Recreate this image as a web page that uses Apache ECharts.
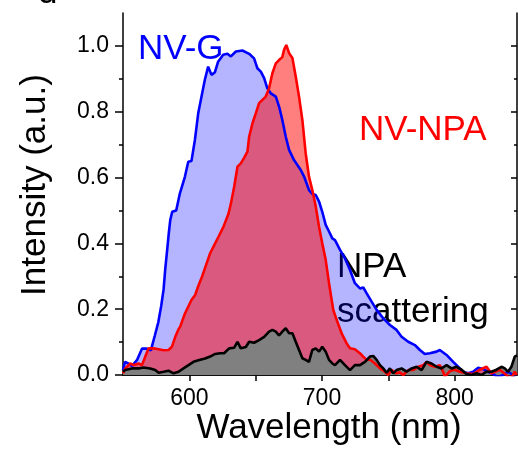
<!DOCTYPE html>
<html>
<head>
<meta charset="utf-8">
<script src="https://cdn.jsdelivr.net/npm/echarts@6/dist/echarts.min.js"></script>
<style>
  html, body { margin: 0; padding: 0; background: #fff; }
  #chart { width: 518px; height: 450px; }
</style>
</head>
<body>
<div id="chart"></div>
<script>
// NV-G spectrum (blue)
const ngWl = [550, 551.5, 554, 556.8, 560.5, 564.3, 568, 571, 574, 576.6, 578.8, 580.6, 581.8, 583.3, 584.5, 585.6, 587.1, 590.1, 592.9, 596.7,
  599.2, 601.6, 604.2, 606.7, 609.2, 611.7, 614.2, 616.7, 619.3, 621.7, 625.5, 628.7, 631.3, 635.1, 640, 645.1, 648.8, 651.3, 653.9, 656.4,
  658.8, 661.4, 665.2, 667.7, 670.1, 672.7, 675.2, 678.9, 684, 686.5, 690.2, 692.7, 695.3, 697.8, 700.2, 702.8, 705.3, 707.8, 709.8, 713.6,
  717.3, 721.1, 724.8, 728.6, 731.1, 733.7, 737.4, 741.2, 746.2, 751.2, 756.2, 760, 765, 770, 773.8, 777.5, 781.3, 786.4, 788.8, 793.9,
  798.9, 802.6, 806.4, 810.1, 813.9, 817.7, 821.4, 825.2, 829, 832.7, 836.5, 840.3, 844, 846.6];
const ngVal = [0.015, 0.04, 0.035, 0.028, 0.045, 0.08, 0.08, 0.075, 0.12, 0.16, 0.21, 0.26, 0.32, 0.38, 0.43, 0.47, 0.496, 0.5, 0.552, 0.603,
  0.648, 0.65, 0.714, 0.795, 0.846, 0.897, 0.937, 0.912, 0.92, 0.952, 0.973, 0.976, 0.968, 0.983, 0.986, 0.976, 0.962, 0.932, 0.922, 0.902,
  0.871, 0.856, 0.846, 0.815, 0.775, 0.724, 0.684, 0.653, 0.623, 0.603, 0.562, 0.55, 0.547, 0.527, 0.496, 0.456, 0.436, 0.415, 0.41, 0.38,
  0.355, 0.319, 0.279, 0.263, 0.266, 0.248, 0.223, 0.198, 0.172, 0.152, 0.137, 0.116, 0.101, 0.091, 0.076, 0.064, 0.066, 0.071, 0.076, 0.061,
  0.04, 0.025, 0.01, 0.005, 0.01, 0.022, 0.018, 0.01, 0.003, -0.007, 0.0, 0.01, 0.0, -0.02];

// NV-NPA spectrum (red)
const npaWl = [550, 551.7, 555.5, 558, 561.7, 564.3, 566.8, 569.3, 573, 576.8, 580.6, 584.3, 586.9, 589.4, 591.6, 593.1, 596.7, 601.6, 604.4, 606.7,
  609.7, 613.1, 615.7, 618.2, 622, 625.7, 629.5, 631.3, 633.8, 636.3, 638.8, 641.3, 643.8, 645.1, 647.6, 650.1, 652.6, 655.1, 657.6, 660.1,
  662.6, 665.2, 667.6, 670.1, 671.4, 673.1, 675.2, 677.7, 680.2, 682.7, 685.2, 687.7, 690.2, 692.7, 695.3, 697.8, 700.2, 702.8, 705.3, 707.3,
  708.5, 711.1, 714.8, 718.6, 721.1, 724.8, 728.6, 731.1, 733.7, 736.1, 739.9, 743.7, 747.4, 749.9, 752.5, 756.2, 758.7, 761.2, 765, 768.7,
  772.5, 776.3, 778.8, 781.3, 785.1, 788.8, 791.3, 792.6, 796.4, 800.1, 803.9, 808.9, 813.9, 818.9, 824, 827.7, 834, 839, 841.5, 845.3, 846.8];
const npaVal = [0.005, 0.02, 0.035, 0.03, 0.035, 0.03, 0.056, 0.081, 0.081, 0.078, 0.075, 0.076, 0.086, 0.116, 0.137, 0.147, 0.187, 0.228, 0.243, 0.27,
  0.3, 0.34, 0.37, 0.39, 0.42, 0.45, 0.49, 0.52, 0.572, 0.633, 0.643, 0.66, 0.679, 0.724, 0.765, 0.795, 0.826, 0.836, 0.846, 0.871,
  0.917, 0.947, 0.957, 0.966, 0.988, 1.003, 0.978, 0.963, 0.907, 0.846, 0.775, 0.674, 0.603, 0.562, 0.512, 0.45, 0.4, 0.35, 0.279, 0.228,
  0.198, 0.167, 0.127, 0.096, 0.081, 0.078, 0.066, 0.056, 0.046, 0.047, 0.035, 0.02, 0.01, 0.0, 0.015, 0.005, 0.008, 0.0, 0.015, 0.015,
  0.025, 0.03, 0.04, 0.03, 0.025, 0.03, 0.01, -0.005, 0.012, 0.016, 0.01, 0.005, 0.003, 0.016, 0.025, 0.005, 0.016, 0.0, -0.02, 0.01, 0.0];

// NPA scattering (black)
const scWl = [550, 551.7, 556.8, 561.7, 565.5, 570.5, 574.3, 576.8, 580.6, 584.3, 588.1, 591.9, 595.6, 599.4, 603.1, 608.2, 611.9, 615.7, 619.5, 623.2,
  626.2, 630, 633.8, 636.3, 638.8, 642.6, 645.1, 648.8, 652.6, 656.4, 660.1, 662.6, 665.2, 667.6, 670.1, 672.7, 675.2, 677.7, 680.2, 682.7,
  685.2, 687.7, 690.2, 692.7, 695.3, 697.8, 700.2, 702.8, 705.3, 707.8, 709.8, 713.6, 717.3, 721.1, 724.8, 728.6, 732.4, 736.1, 738.6, 741.2,
  743.7, 746.2, 748.7, 751.2, 753.7, 756.2, 760, 763.8, 767.5, 771.3, 775.1, 778.8, 782.6, 786.4, 790.1, 793.9, 797.6, 801.4, 805.2, 808.9,
  812.7, 816.5, 820.2, 824, 827.7, 831.5, 835.3, 837.8, 840.2, 842.8, 845.3, 847];
const scVal = [0.01, 0.015, 0.02, 0.02, 0.023, 0.02, 0.015, 0.007, 0.01, 0.013, 0.005, 0.01, 0.02, 0.03, 0.04, 0.046, 0.05, 0.056, 0.064, 0.066,
  0.066, 0.081, 0.083, 0.101, 0.081, 0.085, 0.101, 0.098, 0.106, 0.116, 0.132, 0.137, 0.132, 0.12, 0.132, 0.142, 0.127, 0.127, 0.101, 0.076,
  0.051, 0.046, 0.04, 0.076, 0.081, 0.071, 0.086, 0.071, 0.046, 0.035, 0.03, 0.046, 0.03, 0.015, 0.03, 0.03, 0.04, 0.056, 0.058, 0.046,
  0.03, 0.02, 0.007, 0.02, 0.005, 0.015, 0.02, 0.01, 0.02, 0.025, 0.015, 0.04, 0.035, 0.025, 0.02, 0.03, 0.02, 0.025, 0.016, 0.003,
  0.0, 0.005, 0.0, 0.01, 0.01, 0.016, 0.025, 0.02, 0.01, 0.025, 0.056, 0.06];

const xMajor = [600, 700, 800];
const xMinor = [650, 750];
const xTop = [600, 650, 700, 750, 800];
const yMajor = [0, 0.2, 0.4, 0.6, 0.8, 1.0];
const yMinor = [0.1, 0.3, 0.5, 0.7, 0.9];

const FONT = '"Liberation Sans", Arial, sans-serif';
const BIG = "35px " + FONT;
const zip = (a, b) => a.map((x, i) => [x, b[i]]);

const chart = echarts.init(document.getElementById("chart"));

const baseX = { type: "value", min: 550, max: 847, splitLine: { show: false } };
const baseY = { type: "value", min: 0, max: 1.1, splitLine: { show: false } };
const spine = { show: true, lineStyle: { color: "#000", width: 1.5 } };
const tickLine = { color: "#000", width: 1.5 };

const option = {
  animation: false,
  grid: { left: 123, right: 1, top: 13, bottom: 75 },
  xAxis: [
    {
      ...baseX,
      position: "bottom",
      axisLine: spine,
      axisTick: { show: true, inside: false, length: 6, customValues: xMajor, lineStyle: tickLine },
      axisLabel: { customValues: xMajor, color: "#000", fontSize: 23, fontFamily: FONT, margin: 12 },
    },
    {
      ...baseX,
      position: "bottom",
      axisLine: { show: false },
      axisTick: { show: true, inside: false, length: 4, customValues: xMinor, lineStyle: tickLine },
      axisLabel: { show: false },
    },
    {
      ...baseX,
      position: "top",
      axisLine: spine,
      axisTick: { show: true, inside: true, length: 6, customValues: xTop, lineStyle: tickLine },
      axisLabel: { show: false },
    },
  ],
  yAxis: [
    {
      ...baseY,
      position: "left",
      axisLine: spine,
      axisTick: { show: true, inside: false, length: 8, customValues: yMajor, lineStyle: tickLine },
      axisLabel: {
        customValues: yMajor,
        color: "#000",
        fontSize: 23,
        fontFamily: FONT,
        margin: 14,
        formatter: (v) => Number(v).toFixed(1),
      },
    },
    {
      ...baseY,
      position: "left",
      axisLine: { show: false },
      axisTick: { show: true, inside: false, length: 4, customValues: yMinor, lineStyle: tickLine },
      axisLabel: { show: false },
    },
    {
      ...baseY,
      position: "right",
      axisLine: spine,
      axisTick: { show: true, inside: true, length: 6, customValues: yMajor, lineStyle: tickLine },
      axisLabel: { show: false },
    },
    {
      ...baseY,
      position: "right",
      axisLine: { show: false },
      axisTick: { show: true, inside: true, length: 3, customValues: yMinor, lineStyle: tickLine },
      axisLabel: { show: false },
    },
  ],
  series: [
    {
      name: "NV-G",
      type: "line",
      data: zip(ngWl, ngVal),
      symbol: "none",
      lineStyle: { color: "#0000ff", width: 2.6 },
      areaStyle: { color: "rgba(0, 0, 255, 0.29)", opacity: 1 },
    },
    {
      name: "NV-NPA",
      type: "line",
      data: zip(npaWl, npaVal),
      symbol: "none",
      lineStyle: { color: "#ff0000", width: 2.6 },
      areaStyle: { color: "rgba(255, 0, 0, 0.5)", opacity: 1 },
    },
    {
      name: "NPA scattering",
      type: "line",
      data: zip(scWl, scVal),
      symbol: "none",
      lineStyle: { color: "#000000", width: 2.6 },
      areaStyle: { color: "#808080", opacity: 1 },
    },
  ],
  graphic: [
    { type: "text", x: 38, y: -7, style: { text: "d", font: BIG, fill: "#000", verticalAlign: "middle" } },
    { type: "text", x: 138, y: 49, style: { text: "NV-G", font: BIG, fill: "#0000ff", verticalAlign: "middle" } },
    { type: "text", x: 359, y: 130, style: { text: "NV-NPA", font: BIG, fill: "#ff0000", verticalAlign: "middle" } },
    { type: "text", x: 337, y: 267, style: { text: "NPA", font: BIG, fill: "#000", verticalAlign: "middle" } },
    { type: "text", x: 337, y: 312, style: { text: "scattering", font: BIG, fill: "#000", verticalAlign: "middle" } },
    {
      type: "text", x: 329, y: 428,
      style: { text: "Wavelength (nm)", font: BIG, fill: "#000", align: "center", verticalAlign: "middle" },
    },
    {
      type: "text", x: 35, y: 185, rotation: Math.PI / 2,
      style: { text: "Intensity (a.u.)", font: BIG, fill: "#000", align: "center", verticalAlign: "middle" },
    },
  ],
};

chart.setOption(option);
</script>
</body>
</html>
